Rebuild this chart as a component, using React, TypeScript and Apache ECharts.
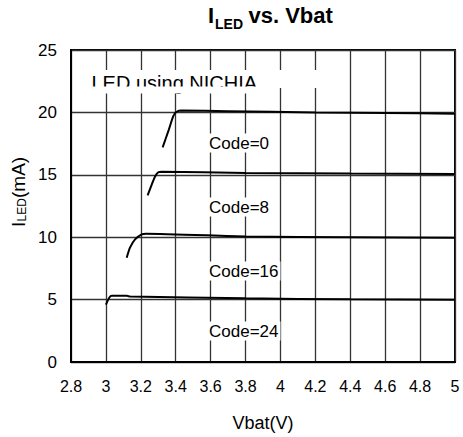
import React, { useEffect, useRef } from "react";
import * as echarts from "echarts";

const xTicks = [2.8, 3, 3.2, 3.4, 3.6, 3.8, 4, 4.2, 4.4, 4.6, 4.8, 5];
const yTicks = [0, 5, 10, 15, 20, 25];

const code0: [number, number][] = [
  [3.325, 17.2], [3.36, 18.6], [3.386, 19.7], [3.405, 20.05], [3.434, 20.15],
  [3.7, 20.1], [4.2, 20.0], [4.6, 19.95], [5.0, 19.9],
];
const code8: [number, number][] = [
  [3.239, 13.35], [3.262, 14.2], [3.281, 14.85], [3.3, 15.2], [3.32, 15.25],
  [3.8, 15.15], [4.4, 15.1], [5.0, 15.07],
];
const code16: [number, number][] = [
  [3.119, 8.36], [3.138, 9.16], [3.167, 9.82], [3.205, 10.22], [3.23, 10.28],
  [3.8, 10.06], [4.4, 10.0], [5.0, 9.96],
];
const code24: [number, number][] = [
  [3.0, 4.6], [3.02, 5.17], [3.033, 5.3], [3.12, 5.3], [3.14, 5.25],
  [3.8, 5.1], [4.4, 5.02], [5.0, 4.98],
];

const seriesNames = ["Code=0", "Code=8", "Code=16", "Code=24"];
const seriesData = [code0, code8, code16, code24];

const FONT = "'Liberation Sans', Arial, sans-serif";

export default function App() {
  const ref = useRef<HTMLDivElement>(null);
  useEffect(() => {
    if (!ref.current) return;
    const chart = echarts.init(ref.current, null, { renderer: "svg" });
    const labelY = [143, 207, 271, 331];
    const txt = (text: string, x: number, y: number, size: number, bold: boolean, extra: any = {}) => ({
      type: "text",
      x,
      y,
      ...extra,
      style: {
        text,
        fontSize: size,
        fontWeight: bold ? "bold" : "normal",
        fontFamily: FONT,
        fill: "#000",
        align: "left",
        verticalAlign: "middle",
        ...(extra.style || {}),
      },
    });
    chart.setOption({
      animation: false,
      backgroundColor: "#fff",
      grid: {
        left: 71,
        right: 8,
        top: 50,
        bottom: 74,
        show: true,
        borderColor: "#000",
        borderWidth: 2,
        backgroundColor: "transparent",
      },
      xAxis: {
        type: "value",
        min: xTicks[0],
        max: xTicks[xTicks.length - 1],
        interval: 0.2,
        axisLine: { show: true, lineStyle: { color: "#000", width: 2 } },
        axisTick: { show: false },
        axisLabel: {
          margin: 16,
          color: "#000",
          fontSize: 16,
          fontFamily: FONT,
          formatter: (v: number) => String(Number(v.toFixed(1))),
        },
        splitLine: { show: true, lineStyle: { color: "#333", width: 1.3 } },
        name: "Vbat(V)",
        nameLocation: "middle",
        nameGap: 52,
        nameTextStyle: { color: "#000", fontSize: 18, fontFamily: FONT },
      },
      yAxis: {
        type: "value",
        min: yTicks[0],
        max: yTicks[yTicks.length - 1],
        interval: 5,
        axisLine: { show: true, lineStyle: { color: "#000", width: 2 } },
        axisTick: { show: false },
        axisLabel: { margin: 14, color: "#000", fontSize: 17, fontFamily: FONT },
        splitLine: { show: true, lineStyle: { color: "#333", width: 1.3 } },
      },
      series: seriesData.map((d, i) => ({
        name: seriesNames[i],
        type: "line",
        data: d,
        showSymbol: false,
        symbol: "none",
        smooth: 0.2,
        lineStyle: { color: "#000", width: 2 },
        z: 3,
      })),
      graphic: [
        // title
        txt("I", 208, 15.5, 22, true),
        txt("LED", 215, 24, 14, true),
        txt("vs. Vbat", 248.5, 15.5, 22, true),
        // y axis name (rotated)
        txt("I", 18.5, 227, 19, false, { rotation: Math.PI / 2 }),
        txt("LED", 21.5, 221.5, 12, false, { rotation: Math.PI / 2 }),
        txt("(mA)", 18.5, 198, 19, false, { rotation: Math.PI / 2 }),
        {
          type: "rect",
          shape: { x: 88, y: 70, width: 230, height: 18 },
          style: { fill: "#fff" },
          z: 10,
        },
        {
          type: "text",
          x: 91.5,
          y: 82.5,
          style: {
            text: "LED using NICHIA",
            fontSize: 20,
            fontFamily: FONT,
            fill: "#000",
            verticalAlign: "middle",
          },
          z: 11,
        },
        {
          type: "rect",
          shape: { x: 89, y: 86.5, width: 170, height: 7 },
          style: { fill: "#fff" },
          z: 12,
        },
        ...seriesNames.map((n, i) => ({
          type: "text",
          x: 207,
          y: labelY[i],
          style: {
            text: n,
            fontSize: 17,
            fontFamily: FONT,
            fill: "#000",
            verticalAlign: "middle",
            backgroundColor: "#fff",
            padding: [1, 2],
          },
          z: 10,
        })),
      ],
    });
    return () => chart.dispose();
  }, []);
  return <div ref={ref} style={{ width: 463, height: 437, position: "absolute", left: 0, top: 0 }} />;
}
